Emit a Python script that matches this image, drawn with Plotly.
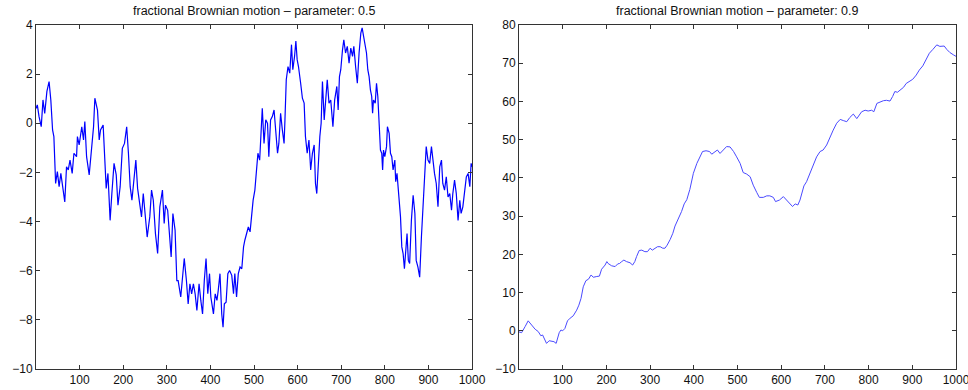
import plotly.graph_objects as go

# Sample index and value of the H = 0.5 path
t_half = [0, 3, 7, 12, 16, 20, 25, 30, 34, 38, 41, 45, 49, 53, 57, 60, 66, 70, 74, 78,
          83, 87, 93, 95, 99, 105, 109, 112, 116, 122, 127, 132, 135, 141, 145, 148, 154,
          158, 161, 165, 170, 174, 179, 184, 188, 193, 198, 203, 208, 212, 216, 220, 225,
          229, 233, 237, 242, 246, 250, 255, 261, 265, 269, 274, 279, 284, 290, 294, 297,
          302, 306, 310, 314, 319, 323, 326, 332, 336, 340, 345, 349, 353, 357, 361, 365,
          369, 374, 378, 382, 386, 390, 394, 398, 401, 407, 411, 415, 418, 422, 426, 429,
          432, 436, 440, 444, 449, 453, 456, 460, 464, 468, 472, 476, 479, 483, 487, 491,
          495, 498, 502, 505, 509, 513, 517, 519, 523, 527, 531, 534, 538, 542, 546, 550,
          554, 557, 561, 565, 569, 571, 574, 578, 582, 586, 589, 593, 596, 599, 602, 607,
          611, 615, 618, 622, 626, 630, 634, 638, 641, 644, 647, 651, 654, 657, 661, 664,
          668, 672, 676, 681, 685, 690, 693, 696, 699, 703, 706, 710, 714, 718, 722, 726,
          729, 733, 737, 741, 745, 748, 752, 755, 758, 761, 764, 767, 770, 772, 774, 778,
          781, 784, 787, 790, 793, 795, 797, 800, 804, 806, 810, 813, 816, 819, 823, 825,
          828, 832, 836, 839, 842, 845, 848, 851, 854, 857, 861, 865, 869, 872, 876, 880,
          884, 888, 891, 895, 899, 903, 907, 911, 914, 918, 922, 926, 930, 933, 937, 941,
          945, 949, 953, 956, 960, 964, 968, 972, 975, 979, 983, 987, 991, 995, 998, 1000]
v_half = [0.6, 0.75, 0.27, -0.14, 0.95, 0.4, 1.3, 1.7, 0.95, -0.27, -0.54, -2.45, -1.97,
          -2.58, -2.04, -2.45, -3.2, -1.77, -1.9, -1.5, -2.04, -1.22, -1.36, -0.54, -0.88,
          -0.14, -0.68, 0.07, -1.36, -2.1, -0.95, -0.14, 1.02, 0.54, -0.68, -0.27, -0.07,
          -1.63, -2.65, -2.04, -3.95, -2.86, -1.63, -2.1, -3.33, -2.58, -1.02, -0.82, -0.14,
          -1.22, -2.58, -3.13, -2.18, -1.5, -2.65, -3.13, -3.81, -2.86, -3.67, -4.63, -3.8,
          -2.72, -3.13, -4.49, -5.3, -3.4, -2.72, -4.08, -3.33, -3.54, -4.49, -5.44, -3.67,
          -4.35, -6.4, -6.4, -7.07, -6.12, -5.5, -6.4, -7.35, -6.53, -6.94, -6.53, -6.94,
          -7.62, -6.53, -7.21, -7.76, -6.4, -5.5, -6.94, -6.12, -7.07, -7.76, -6.94, -7.21,
          -6.8, -6.12, -7.76, -8.3, -7.35, -7.28, -6.12, -5.99, -6.19, -6.94, -6.12, -7.07,
          -6.12, -5.85, -5.92, -5.03, -4.76, -4.49, -4.22, -4.42, -3.67, -3.13, -2.72, -1.9,
          -1.22, -1.5, -0.27, 0.61, -0.82, 0.14, 0.0, -1.36, 0.14, 0.27, 0.54, -0.41, -1.22,
          -0.82, 0.41, -0.27, -0.82, 0.14, 1.77, 2.31, 2.04, 3.2, 2.18, 2.72, 3.35, 2.59,
          2.31, 1.63, 1.02, 0.82, -0.54, -1.22, -0.68, -1.9, -1.22, -0.88, -2.45, -2.86,
          -1.63, -0.54, 0.0, 1.7, 0.14, 0.82, 1.77, 0.82, 0.95, -0.14, 0.95, 1.5, 0.54, 1.9,
          2.18, 2.99, 3.4, 2.86, 3.13, 2.45, 3.06, 2.72, 3.13, 2.31, 1.63, 2.86, 3.67, 3.88,
          3.5, 3.2, 2.86, 2.18, 1.9, 1.36, 1.09, 0.41, 0.95, 0.82, 1.63, 1.09, 0.14, -1.09,
          -1.22, -1.9, -1.09, -1.36, -0.95, -0.14, -0.41, -1.22, -1.36, -1.9, -1.5, -2.38,
          -2.04, -2.86, -3.81, -5.03, -5.3, -5.92, -5.03, -4.49, -5.58, -5.71, -3.95, -2.93,
          -3.67, -5.58, -5.85, -6.26, -4.63, -3.13, -2.18, -0.95, -1.5, -1.63, -0.95, -1.77,
          -2.04, -2.45, -3.4, -1.77, -1.5, -2.45, -2.72, -2.18, -3.0, -2.86, -3.54, -2.86,
          -2.31, -2.86, -3.95, -3.13, -3.67, -3.4, -2.72, -2.18, -2.04, -2.58, -1.63, -1.77]

# Sample index and value of the H = 0.9 path
t_nine = [0, 6, 14, 21, 29, 37, 44, 50, 54, 60, 63, 69, 75, 80, 85, 88, 92, 96, 100, 105,
          111, 117, 124, 132, 137, 142, 147, 153, 159, 165, 170, 178, 184, 189, 197, 201,
          204, 212, 220, 226, 230, 235, 240, 246, 254, 260, 265, 269, 275, 281, 288, 294,
          300, 305, 311, 317, 323, 329, 334, 339, 346, 352, 357, 365, 372, 378, 384, 391,
          399, 407, 414, 420, 428, 436, 441, 449, 454, 460, 468, 475, 483, 491, 498, 506,
          513, 521, 529, 536, 544, 550, 559, 567, 574, 582, 587, 596, 605, 613, 620, 626,
          632, 638, 643, 649, 652, 658, 666, 674, 681, 689, 696, 704, 712, 719, 727, 735,
          742, 750, 757, 765, 773, 777, 784, 792, 799, 807, 812, 819, 826, 834, 841, 849,
          855, 860, 866, 872, 880, 886, 893, 901, 909, 916, 924, 931, 939, 947, 956, 963,
          973, 979, 986, 994, 1000]
v_nine = [-0.3, -0.5, 1.1, 2.6, 1.5, 0.4, -0.2, -1.3, -1.1, -2.4, -3.3, -2.6, -2.85, -2.85,
          -3.3, -2.0, -0.5, 0.2, 0.0, 0.6, 2.6, 3.3, 3.9, 5.4, 6.7, 8.5, 11.5, 13.1, 13.5,
          14.6, 14.0, 14.2, 14.3, 16.1, 17.2, 18.1, 17.6, 17.0, 16.8, 17.5, 17.6, 18.1, 18.5,
          18.1, 17.8, 17.2, 18.1, 19.4, 21.0, 21.1, 20.7, 20.7, 21.6, 21.1, 21.6, 22.0, 22.0,
          21.6, 21.6, 22.4, 23.9, 25.5, 27.4, 29.4, 31.2, 33.2, 34.3, 37.0, 41.2, 43.8, 45.5,
          46.9, 47.1, 46.9, 46.2, 46.9, 47.3, 46.4, 47.3, 48.2, 48.1, 46.9, 45.5, 43.8, 41.4,
          41.0, 40.3, 38.1, 36.2, 34.9, 34.9, 35.3, 35.3, 34.9, 33.8, 34.2, 35.1, 34.0, 33.2,
          32.5, 33.2, 32.9, 34.2, 36.8, 37.9, 39.0, 41.2, 43.4, 45.5, 46.9, 47.3, 48.6, 50.8,
          52.5, 54.3, 55.3, 55.0, 54.7, 55.8, 56.7, 55.5, 56.1, 57.3, 57.7, 57.5, 57.7, 57.3,
          59.5, 59.9, 60.2, 60.3, 60.1, 61.3, 62.6, 62.4, 62.9, 63.7, 64.7, 65.2, 65.8, 66.9,
          68.2, 69.3, 70.8, 72.6, 73.6, 74.8, 74.4, 74.5, 73.6, 72.8, 72.2, 71.8]

x_ticks = [100, 200, 300, 400, 500, 600, 700, 800, 900, 1000]
y_ticks_half = [-10, -8, -6, -4, -2, 0, 2, 4]
y_ticks_nine = [-10, 0, 10, 20, 30, 40, 50, 60, 70, 80]
titles = ["fractional Brownian motion \u2013 parameter: 0.5",
          "fractional Brownian motion \u2013 parameter: 0.9"]

W, H = 968, 390
left_dom = [36 / W, 472 / W]
right_dom = [519 / W, 956 / W]
y_dom = [1 - 369 / H, 1 - 25 / H]

fig = go.Figure()
fig.add_trace(go.Scatter(x=t_half, y=v_half, mode="lines",
                         line=dict(color="#0000ff", width=1.2), xaxis="x", yaxis="y"))
fig.add_trace(go.Scatter(x=t_nine, y=v_nine, mode="lines",
                         line=dict(color="#4a4aff", width=1), xaxis="x2", yaxis="y2"))

axis_style = dict(showline=True, linecolor="#333333", linewidth=1, mirror="ticks",
                  ticks="inside", ticklen=4, tickcolor="#333333", tickwidth=1,
                  showgrid=False, zeroline=False, automargin=False,
                  ticklabeloverflow="allow",
                  tickfont=dict(family="Liberation Sans, Arial, sans-serif", size=12,
                                color="#111111"))

fig.update_layout(
    width=W, height=H,
    margin=dict(l=0, r=0, t=0, b=0),
    paper_bgcolor="white", plot_bgcolor="white",
    showlegend=False,
    xaxis=dict(domain=left_dom, range=[0, 1000], tickvals=x_ticks, anchor="y", **axis_style),
    yaxis=dict(domain=y_dom, range=[-10, 4], tickvals=y_ticks_half, anchor="x", **axis_style),
    xaxis2=dict(domain=right_dom, range=[0, 1000], tickvals=x_ticks, anchor="y2", **axis_style),
    yaxis2=dict(domain=y_dom, range=[-10, 80], tickvals=y_ticks_nine, anchor="x2", **axis_style),
)

for dom, text in zip([left_dom, right_dom], titles):
    fig.add_annotation(text=text, xref="paper", yref="paper",
                       x=(dom[0] + dom[1]) / 2, y=1 - 11 / H,
                       xanchor="center", yanchor="middle", showarrow=False,
                       font=dict(family="Liberation Sans, Arial, sans-serif", size=12.5,
                                 color="#111111"))

fig.write_html("out.html")
